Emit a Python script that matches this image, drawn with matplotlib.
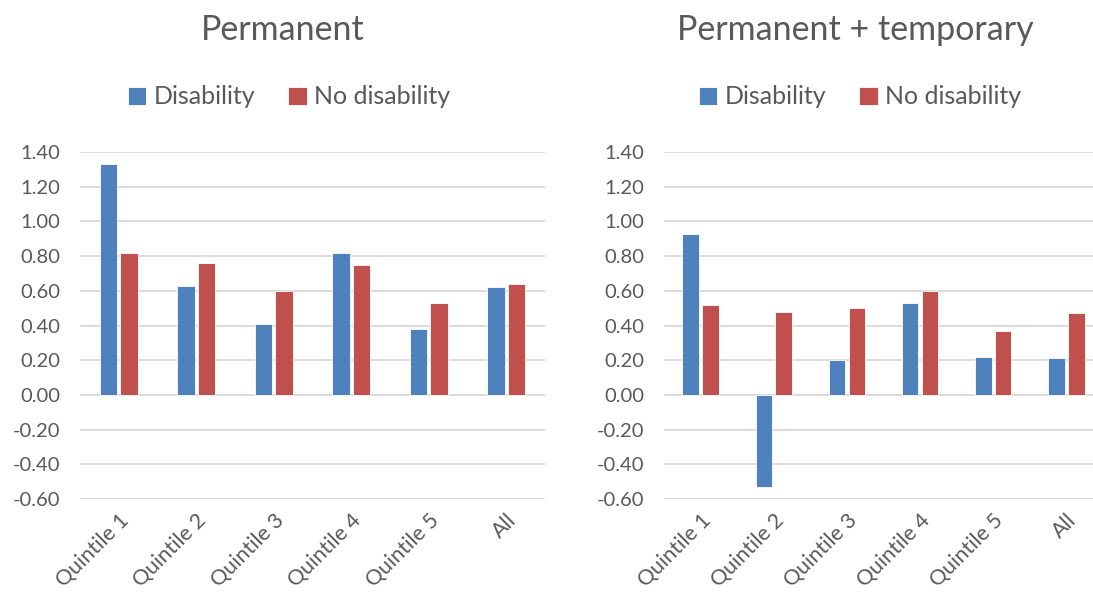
import matplotlib.pyplot as plt
from matplotlib.ticker import FormatStrFormatter
import numpy as np

# data
categories = ['Quintile 1', 'Quintile 2', 'Quintile 3', 'Quintile 4', 'Quintile 5', 'All']
perm_disab = [1.33, 0.63, 0.41, 0.82, 0.38, 0.62]
perm_nodisab = [0.82, 0.76, 0.60, 0.75, 0.53, 0.64]
temp_disab = [0.93, -0.53, 0.20, 0.53, 0.22, 0.21]
temp_nodisab = [0.52, 0.48, 0.50, 0.60, 0.37, 0.47]
yticks = [-0.6, -0.4, -0.2, 0.0, 0.2, 0.4, 0.6, 0.8, 1.0, 1.2, 1.4]

plt.rcParams['font.family'] = ['Lato', 'DejaVu Sans']
blue = '#4F81BD'
red = '#C0504D'
txt = '#595959'
grid = '#D9D9D9'

W, H = 1093, 594
fig = plt.figure(figsize=(W / 100, H / 100), dpi=100)

panels = [
    ('Permanent', perm_disab, perm_nodisab, 80, 465, 283, 289),
    ('Permanent + temporary', temp_disab, temp_nodisab, 664, 439, 855, 860),
]

x = np.arange(len(categories))
for title, d, nd, left, width, tx, lx in panels:
    ax = fig.add_axes([left / W, 1 - 499 / H, width / W, (499 - 152) / H])
    b1 = ax.bar(x - 0.135, d, width=0.225, color=blue, edgecolor='white', linewidth=0.6,
                label='Disability', zorder=3)
    b2 = ax.bar(x + 0.135, nd, width=0.225, color=red, edgecolor='white', linewidth=0.6,
                label='No disability', zorder=3)
    ax.set_xlim(-0.5, 5.5)
    ax.set_ylim(-0.6, 1.4)
    ax.set_yticks(yticks)
    ax.yaxis.set_major_formatter(FormatStrFormatter('%.2f'))
    ax.grid(axis='y', color=grid, linewidth=1.3, zorder=0)
    for s in ax.spines.values():
        s.set_visible(False)
    ax.tick_params(length=0, labelsize=14.5, labelcolor=txt)
    ax.tick_params(axis='y', pad=14)
    ax.set_xticks(x)
    ax.set_xticklabels(categories, rotation=45, ha='right', rotation_mode='anchor')
    ax.tick_params(axis='x', pad=8, labelsize=15.5)
    fig.text(tx / W, 1 - 30 / H, title, ha='center', va='center', fontsize=24.5, color=txt)
    fig.legend(handles=[b1, b2], loc='center', bbox_to_anchor=(lx / W, 1 - 97 / H),
               ncol=2, frameon=False, fontsize=18, labelcolor=txt, handlelength=0.75,
               handleheight=0.75, handletextpad=0.3, columnspacing=1.3)

fig.savefig('out.png', dpi=100)
